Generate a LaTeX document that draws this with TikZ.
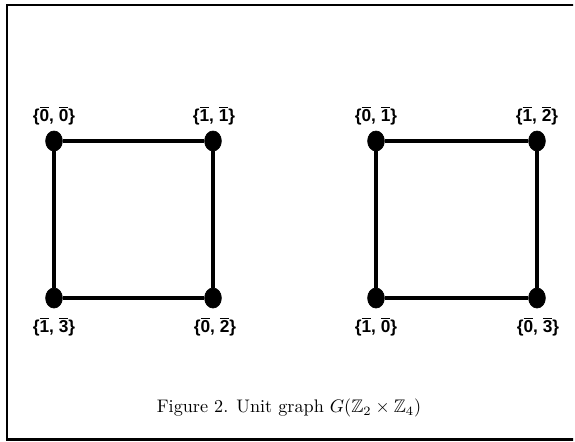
\documentclass[tikz,border=0pt]{standalone}
\usepackage{fontspec}
\usepackage{amsmath,amssymb}
\usepackage{tikz}
\usetikzlibrary{shapes.geometric, positioning}
\newfontfamily\labelfont{Liberation Sans}
\newcommand{\cls}[1]{$\overline{\mbox{#1}}$}
\tikzstyle{vertex}    = [draw, fill=black, ellipse, minimum width=9.2pt, minimum height=11pt, inner sep=0pt]
\tikzstyle{edge}      = [line width=1.7pt]
\tikzstyle{vlabel}    = [font=\labelfont\bfseries\fontsize{9.5}{11}\selectfont, inner sep=1pt]
\tikzstyle{frame}     = [line width=1.4pt]

\begin{document}
\begin{tikzpicture}[x=0.55pt, y=-0.55pt]

\useasboundingbox (0,0) rectangle (575,441);
\begin{scope}
\clip (0,0) rectangle (573,441);
\draw[frame] (580,5) -- (7,5) -- (7,439.5) -- (580,439.5);
\end{scope}

\node[vertex] (A1)   at (54,141) {};
\node[vertex] (A2)   at (213,141) {};
\node[vertex] (A3)   at (213,298) {};
\node[vertex] (A4)   at (54,298) {};

\node[vertex] (B1)   at (376,141) {};
\node[vertex] (B2)   at (537,141) {};
\node[vertex] (B3)   at (537,298) {};
\node[vertex] (B4)   at (376,298) {};

\node[vlabel] (LA1)  at (54,116) {\{\cls{0}, \cls{0}\}};
\node[vlabel] (LA2)  at (214,116) {\{\cls{1}, \cls{1}\}};
\node[vlabel] (LA3)  at (215,327) {\{\cls{0}, \cls{2}\}};
\node[vlabel] (LA4)  at (54,327) {\{\cls{1}, \cls{3}\}};

\node[vlabel] (LB1)  at (376,116) {\{\cls{0}, \cls{1}\}};
\node[vlabel] (LB2)  at (537,116) {\{\cls{1}, \cls{2}\}};
\node[vlabel] (LB3)  at (538,327) {\{\cls{0}, \cls{3}\}};
\node[vlabel] (LB4)  at (376,327) {\{\cls{1}, \cls{0}\}};

\draw[edge] (A1) -- (A2);
\draw[edge] (A2) -- (A3);
\draw[edge] (A3) -- (A4);
\draw[edge] (A4) -- (A1);

\draw[edge] (B1) -- (B2);
\draw[edge] (B2) -- (B3);
\draw[edge] (B3) -- (B4);
\draw[edge] (B4) -- (B1);

\node (caption) at (289,408) {Figure 2. Unit graph $G(\mathbb{Z}_2 \times \mathbb{Z}_4)$};

\end{tikzpicture}
\end{document}
